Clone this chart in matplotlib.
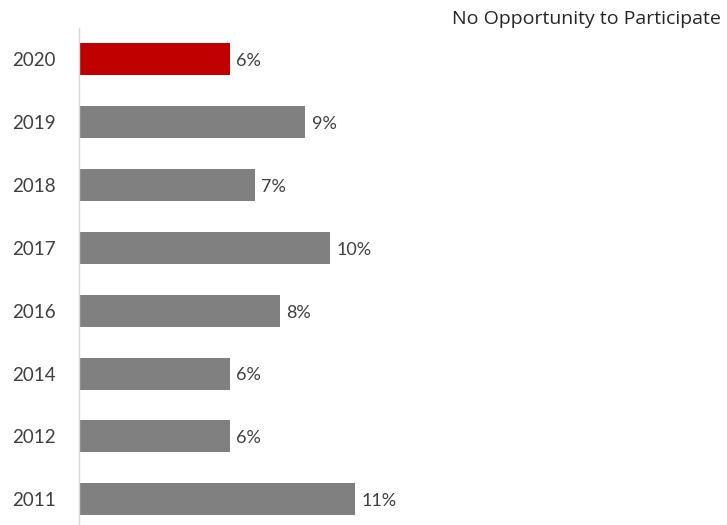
import matplotlib.pyplot as plt

years = ['2020', '2019', '2018', '2017', '2016', '2014', '2012', '2011']
values = [6, 9, 7, 10, 8, 6, 6, 11]
highlight = '2020'
title = 'No Opportunity to Participate'


def main():
    fig = plt.figure(figsize=(7.27, 5.25), dpi=100)
    ax = fig.add_axes([0.1087, 0.0, 0.8643, 0.9467])

    colors = ['#c00000' if y == highlight else '#808080' for y in years]
    pos = list(range(len(years)))
    ax.barh(pos, values, height=0.51, color=colors)

    for p, v in zip(pos, values):
        ax.text(v + 0.25, p + 0.03, f'{v}%', va='center', ha='left',
                fontsize=13, color='#404040', family='Lato')

    ax.set_yticks(pos)
    ax.set_yticklabels(years, fontsize=13.5, color='#404040', family='Lato')
    ax.tick_params(axis='y', length=0, pad=17)
    ax.set_xticks([])
    ax.set_xlim(0, 25)
    ax.set_ylim(7.41, -0.5)

    for s in ['top', 'right', 'bottom']:
        ax.spines[s].set_visible(False)
    ax.spines['left'].set_color('#d9d9d9')
    ax.spines['left'].set_linewidth(1)

    fig.text(0.806, 0.963, title, ha='center', va='center',
             fontsize=14, color='#262626', family='Open Sans')

    fig.savefig('out.png', dpi=100)
    plt.close(fig)


if __name__ == '__main__':
    main()
